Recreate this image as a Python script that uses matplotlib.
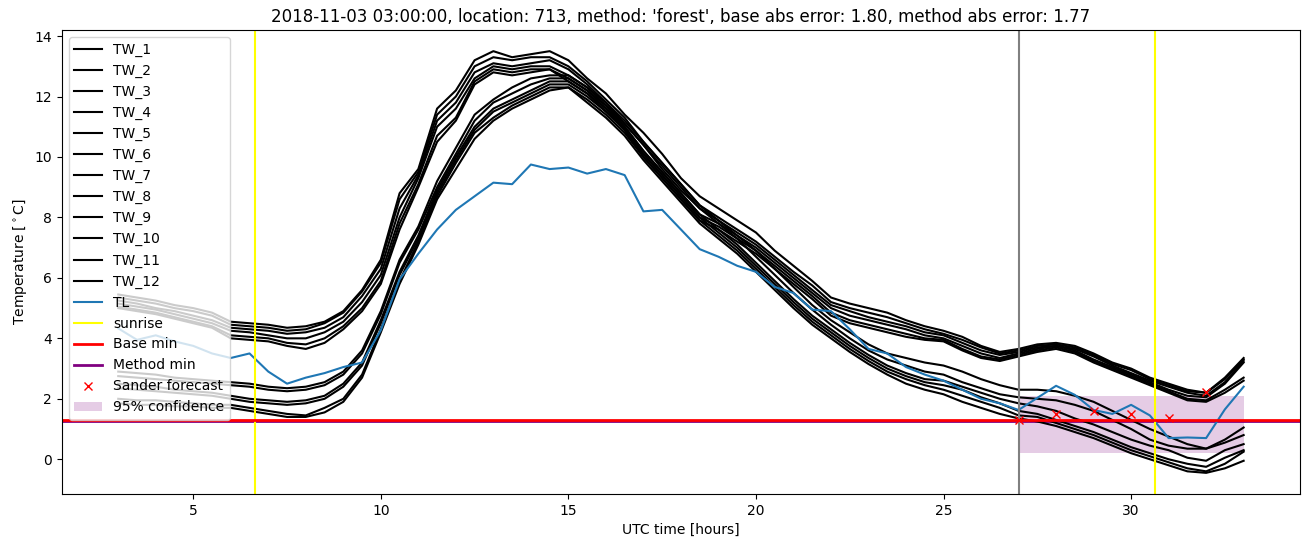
import matplotlib
matplotlib.use('Agg')
import matplotlib.pyplot as plt
import numpy as np

# time axis [hours], half hourly
hours = [3.0, 3.5, 4.0, 4.5, 5.0, 5.5, 6.0, 6.5, 7.0, 7.5, 8.0, 8.5, 9.0, 9.5,
         10.0, 10.5, 11.0, 11.5, 12.0, 12.5, 13.0, 13.5, 14.0, 14.5, 15.0, 15.5,
         16.0, 16.5, 17.0, 17.5, 18.0, 18.5, 19.0, 19.5, 20.0, 20.5, 21.0, 21.5,
         22.0, 22.5, 23.0, 23.5, 24.0, 24.5, 25.0, 25.5, 26.0, 26.5, 27.0, 27.5,
         28.0, 28.5, 29.0, 29.5, 30.0, 30.5, 31.0, 31.5, 32.0, 32.5, 33.0]

tw_1 = [5.45, 5.35, 5.25, 5.1, 5.0, 4.85, 4.55, 4.5, 4.45, 4.35, 4.4, 4.55, 4.9, 5.6,
        6.6, 8.8, 9.6, 11.6, 12.2, 13.2, 13.5, 13.3, 13.4, 13.5, 13.2, 12.6,
        12.1, 11.4, 10.8, 10.1, 9.3, 8.7, 8.3, 7.9, 7.5, 6.9, 6.4, 5.9,
        5.35, 5.15, 5.0, 4.85, 4.6, 4.4, 4.25, 4.05, 3.75, 3.55, 3.65, 3.8,
        3.85, 3.75, 3.5, 3.2, 3.0, 2.7, 2.5, 2.3, 2.2, 2.7, 3.35]
tw_2 = [5.35, 5.25, 5.15, 5.0, 4.9, 4.75, 4.45, 4.4, 4.35, 4.25, 4.3, 4.5, 4.85, 5.55,
        6.5, 8.6, 9.5, 11.4, 12.0, 13.0, 13.3, 13.2, 13.3, 13.3, 13.0, 12.5,
        11.9, 11.3, 10.5, 9.8, 9.1, 8.4, 8.0, 7.6, 7.2, 6.7, 6.2, 5.75,
        5.2, 5.0, 4.85, 4.7, 4.5, 4.3, 4.15, 3.95, 3.7, 3.5, 3.6, 3.75,
        3.8, 3.7, 3.45, 3.15, 2.95, 2.65, 2.45, 2.25, 2.2, 2.65, 3.3]
tw_3 = [5.25, 5.15, 5.0, 4.9, 4.75, 4.6, 4.35, 4.3, 4.25, 4.15, 4.2, 4.35, 4.7, 5.4,
        6.3, 8.3, 9.4, 11.2, 11.8, 12.8, 13.1, 13.0, 13.1, 13.2, 12.9, 12.4,
        11.8, 11.1, 10.4, 9.6, 8.9, 8.3, 7.9, 7.5, 7.1, 6.6, 6.1, 5.6,
        5.1, 4.9, 4.7, 4.55, 4.4, 4.2, 4.1, 3.85, 3.6, 3.45, 3.55, 3.7,
        3.75, 3.65, 3.4, 3.1, 2.85, 2.6, 2.4, 2.2, 2.1, 2.55, 3.25]
tw_4 = [5.15, 5.05, 4.95, 4.8, 4.65, 4.5, 4.25, 4.2, 4.1, 4.0, 4.0, 4.2, 4.55, 5.2,
        6.1, 8.0, 9.3, 11.0, 11.6, 12.6, 13.0, 12.9, 13.0, 13.0, 12.7, 12.3,
        11.7, 11.0, 10.2, 9.5, 8.8, 8.1, 7.8, 7.4, 7.0, 6.5, 6.0, 5.5,
        5.0, 4.75, 4.6, 4.45, 4.3, 4.1, 4.0, 3.75, 3.5, 3.35, 3.5, 3.65,
        3.75, 3.6, 3.3, 3.05, 2.8, 2.55, 2.3, 2.1, 2.05, 2.5, 3.2]
tw_5 = [5.05, 4.95, 4.85, 4.7, 4.55, 4.4, 4.1, 4.05, 4.0, 3.85, 3.8, 4.0, 4.4, 5.0,
        5.9, 7.8, 9.1, 10.7, 11.3, 12.5, 12.9, 12.8, 12.9, 12.9, 12.6, 12.2,
        11.6, 10.9, 10.1, 9.4, 8.7, 8.0, 7.7, 7.3, 6.9, 6.4, 5.9, 5.4,
        4.85, 4.6, 4.45, 4.3, 4.15, 4.0, 3.95, 3.65, 3.4, 3.3, 3.45, 3.6,
        3.7, 3.55, 3.25, 3.0, 2.75, 2.5, 2.25, 2.0, 1.95, 2.3, 2.7]
tw_6 = [5.0, 4.9, 4.8, 4.65, 4.5, 4.35, 4.0, 3.95, 3.9, 3.75, 3.65, 3.85, 4.3, 4.9,
        5.8, 7.6, 9.0, 10.5, 11.2, 12.4, 12.8, 12.7, 12.8, 12.9, 12.5, 12.1,
        11.5, 10.9, 10.0, 9.3, 8.6, 7.9, 7.6, 7.2, 6.8, 6.3, 5.8, 5.3,
        4.75, 4.5, 4.35, 4.2, 4.05, 3.95, 3.9, 3.6, 3.35, 3.25, 3.4, 3.55,
        3.65, 3.5, 3.2, 2.95, 2.7, 2.45, 2.2, 1.95, 1.9, 2.2, 2.6]
tw_7 = [2.9, 2.85, 2.8, 2.7, 2.65, 2.6, 2.55, 2.5, 2.4, 2.35, 2.4, 2.55, 2.9, 3.6,
        4.9, 6.6, 7.7, 9.2, 10.3, 11.4, 11.9, 12.3, 12.6, 12.7, 12.7, 12.3,
        11.8, 11.2, 10.5, 9.8, 9.1, 8.4, 7.9, 7.4, 6.9, 6.3, 5.7, 5.1,
        4.6, 4.2, 3.8, 3.5, 3.35, 3.2, 3.1, 2.9, 2.65, 2.45, 2.3, 2.3,
        2.25, 2.1, 1.9, 1.6, 1.3, 1.0, 0.75, 0.5, 0.35, 0.65, 1.05]
tw_8 = [2.75, 2.7, 2.65, 2.6, 2.55, 2.5, 2.45, 2.4, 2.3, 2.25, 2.3, 2.45, 2.8, 3.5,
        4.8, 6.5, 7.6, 9.0, 10.1, 11.2, 11.8, 12.1, 12.4, 12.6, 12.6, 12.2,
        11.7, 11.1, 10.4, 9.7, 9.0, 8.3, 7.8, 7.3, 6.7, 6.1, 5.5, 4.95,
        4.45, 4.0, 3.6, 3.3, 3.1, 2.9, 2.8, 2.55, 2.35, 2.15, 2.05, 2.0,
        1.95, 1.8, 1.6, 1.3, 1.0, 0.65, 0.45, 0.35, 0.35, 0.55, 0.8]
tw_9 = [2.5, 2.45, 2.4, 2.3, 2.25, 2.2, 2.1, 2.0, 1.95, 1.9, 1.95, 2.1, 2.5, 3.2,
        4.6, 6.2, 7.4, 8.9, 10.0, 11.0, 11.6, 11.9, 12.2, 12.5, 12.5, 12.1,
        11.6, 11.0, 10.2, 9.5, 8.8, 8.1, 7.6, 7.1, 6.5, 5.9, 5.3, 4.75,
        4.3, 3.85, 3.45, 3.1, 2.85, 2.65, 2.6, 2.4, 2.2, 2.0, 1.85, 1.75,
        1.6, 1.35, 1.15, 0.9, 0.65, 0.45, 0.3, 0.05, -0.05, 0.3, 0.5]
tw_10 = [2.35, 2.3, 2.25, 2.2, 2.15, 2.1, 2.0, 1.9, 1.85, 1.8, 1.85, 2.0, 2.4, 3.1,
         4.5, 6.1, 7.3, 8.8, 9.9, 10.9, 11.5, 11.8, 12.1, 12.4, 12.4, 12.0,
         11.5, 10.9, 10.1, 9.4, 8.7, 8.0, 7.5, 7.0, 6.4, 5.8, 5.2, 4.65,
         4.2, 3.75, 3.35, 3.0, 2.75, 2.55, 2.45, 2.3, 2.05, 1.85, 1.6, 1.5,
         1.3, 1.1, 0.9, 0.65, 0.4, 0.2, 0.0, -0.15, -0.25, 0.05, 0.3]
tw_11 = [2.0, 1.95, 1.95, 1.9, 1.85, 1.8, 1.8, 1.7, 1.6, 1.5, 1.45, 1.7, 2.0, 2.8,
         4.3, 5.9, 7.2, 8.7, 9.8, 10.8, 11.3, 11.7, 12.0, 12.3, 12.3, 11.9,
         11.4, 10.8, 10.0, 9.3, 8.6, 7.9, 7.4, 6.9, 6.3, 5.7, 5.1, 4.55,
         4.1, 3.65, 3.25, 2.9, 2.65, 2.45, 2.3, 2.1, 1.9, 1.7, 1.45, 1.4,
         1.2, 1.0, 0.8, 0.55, 0.3, 0.1, -0.1, -0.3, -0.4, -0.15, 0.25]
tw_12 = [1.85, 1.8, 1.8, 1.75, 1.75, 1.7, 1.7, 1.6, 1.5, 1.4, 1.4, 1.55, 1.9, 2.7,
         4.2, 5.8, 7.1, 8.6, 9.6, 10.6, 11.2, 11.6, 11.9, 12.2, 12.3, 11.8,
         11.3, 10.7, 9.9, 9.2, 8.5, 7.8, 7.3, 6.8, 6.2, 5.6, 5.0, 4.45,
         4.0, 3.55, 3.15, 2.8, 2.5, 2.3, 2.15, 1.9, 1.7, 1.5, 1.35, 1.25,
         1.1, 0.9, 0.7, 0.45, 0.2, 0.0, -0.2, -0.4, -0.45, -0.3, -0.05]
tl = [4.33, 3.95, 4.1, 3.9, 3.75, 3.5, 3.35, 3.5, 2.9, 2.5, 2.7, 2.85, 3.05, 3.2,
      4.27, 5.95, 6.8, 7.6, 8.25, 8.7, 9.15, 9.1, 9.75, 9.6, 9.65, 9.45,
      9.6, 9.4, 8.2, 8.25, 7.6, 6.95, 6.7, 6.4, 6.2, 5.7, 5.5, 4.95,
      4.9, 4.3, 3.65, 3.5, 3.05, 2.8, 2.6, 2.3, 2.0, 1.85, 1.63, 2.03,
      2.43, 2.13, 1.63, 1.5, 1.8, 1.45, 0.7, 0.72, 0.7, 1.65, 2.4]

tw_series = [tw_1, tw_2, tw_3, tw_4, tw_5, tw_6, tw_7, tw_8, tw_9, tw_10, tw_11, tw_12]

sunrise = [6.65, 30.64]
forecast_time = 27.0
base_min = 1.30
method_min = 1.26
sander_hours = [27, 28, 29, 30, 31, 32]
sander_values = [1.3, 1.5, 1.58, 1.5, 1.38, 2.23]
conf_hours = [27.0, 33.0]
conf_low = [0.2, 0.2]
conf_high = [2.1, 2.1]

title = "2018-11-03 03:00:00, location: 713, method: 'forest', base abs error: 1.80, method abs error: 1.77"

fig = plt.figure(figsize=(13.1, 5.47), dpi=100)
ax = fig.add_axes([0.0473, 0.097, 0.945, 0.848])

for i, vals in enumerate(tw_series):
    ax.plot(hours, vals, color='black', label='TW_%d' % (i + 1))
ax.plot(hours, tl, color='tab:blue', label='TL')
for k, s in enumerate(sunrise):
    ax.axvline(s, color='yellow', label='sunrise' if k == 0 else None)
ax.axvline(forecast_time, color='grey')
ax.axhline(base_min, color='red', linewidth=2, label='Base min')
ax.axhline(method_min, color='purple', linewidth=2, label='Method min', zorder=1.9)
ax.plot(sander_hours, sander_values, 'x', color='red', label='Sander forecast')
ax.fill_between(conf_hours, conf_low, conf_high, color='purple', alpha=0.2,
                linewidth=0, label='95% confidence')

ax.set_title(title)
ax.set_xlabel('UTC time [hours]')
ax.set_ylabel(r'Temperature [$^\circ$C]')
ax.legend(loc='upper left')

fig.savefig('out.png', dpi=100)
